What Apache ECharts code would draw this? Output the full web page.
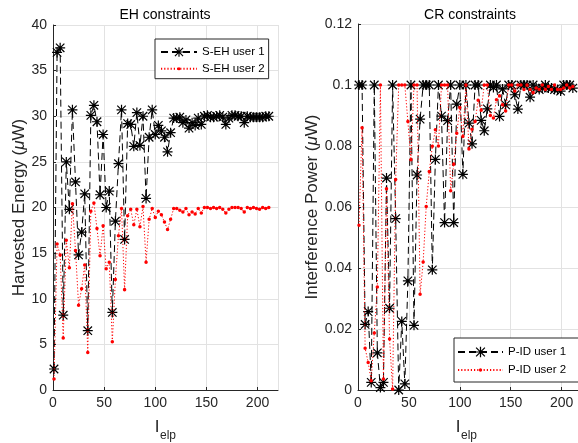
<!DOCTYPE html>
<html><head><meta charset="utf-8">
<script src="https://cdn.jsdelivr.net/npm/echarts@6/dist/echarts.min.js"></script>
<style>html,body{margin:0;padding:0;background:#fff}#c{width:578px;height:443px}</style>
</head><body><div id="c"></div>
<script>
// iteration index l_elp (x values shared by all series)
const iterations = [1,4,7,10,13,16,19,22,25,28,31,34,37,40,43,46,49,52,55,58,61,64,67,70,73,76,79,82,85,88,91,94,97,100,103,106,109,112,115,118,121,124,127,130,133,136,139,142,145,148,151,154,157,160,163,166,169,172,175,178,181,184,187,190,193,196,199,202,205,208,211];

// EH constraints: harvested energy (uW)
const sehUser1 = [2.3,37.0,37.5,8.2,25.0,19.8,30.7,22.8,14.8,17.3,21.5,6.5,30.1,31.2,29.4,21.4,28.0,20.0,21.8,8.5,18.5,24.8,30.7,16.5,29.2,29.1,26.7,30.4,26.8,30.0,21.0,27.7,30.7,28.0,29.0,28.4,27.7,26.1,28.2,29.8,29.8,29.9,29.3,29.6,28.7,29.3,29.0,29.8,29.1,30.0,30.1,29.9,29.9,30.0,30.1,29.9,29.1,29.8,30.1,30.1,30.0,30.0,29.3,30.0,29.9,29.9,29.9,29.9,29.9,30.0,30.0];
const sehUser2 = [1.2,16.0,14.8,5.7,16.4,13.4,20.4,15.3,9.3,11.1,13.7,4.1,19.6,20.5,17.7,14.7,18.0,13.3,14.0,5.3,12.1,16.9,19.9,11.0,19.1,19.8,18.1,19.8,17.9,20.1,14.0,18.7,19.9,18.9,19.6,19.2,18.4,17.6,18.7,19.9,19.9,19.7,19.5,19.9,19.2,19.5,19.3,19.9,19.4,20.0,20.0,19.9,20.0,19.9,20.0,19.8,19.4,19.8,20.0,20.0,20.0,19.9,19.5,20.0,19.9,20.0,19.9,19.8,20.0,19.9,20.0];

// CR constraints: interference power (uW)
const pidUser1 = [0.1,0.1,0.0215,0.0257,0.0025,0.1,0.0122,0.0008,0.0025,0.0695,0.0268,0.1,0.0562,0.0,0.0225,0.002,0.0358,0.1,0.0212,0.0705,0.0888,0.1,0.1,0.1,0.0394,0.0756,0.1,0.0898,0.0549,0.0883,0.1,0.0549,0.0937,0.1,0.0707,0.1,0.0875,0.0807,0.1,0.1,0.0884,0.085,0.0922,0.1,0.0992,0.1,0.0897,0.0987,0.0935,0.1,0.1,0.0968,0.0921,0.1,0.1,0.1,0.096,0.1,0.099,0.0985,0.099,0.1,0.099,0.099,0.0985,0.0985,0.098,0.1,0.1,0.1,0.099];
const pidUser2 = [0.054,0.086,0.0137,0.009,0.003,0.0187,0.0338,0.1,0.0036,0.066,0.0167,0.0003,0.069,0.1,0.1,0.1,0.088,0.0755,0.1,0.1,0.0314,0.042,0.0602,0.0716,0.0799,0.0853,0.08,0.1,0.1,0.1,0.0653,0.074,0.0842,0.0926,0.0831,0.1,0.079,0.0855,0.088,0.095,0.0917,0.1,0.1,0.09,0.0892,0.0952,0.0965,0.0935,0.0915,0.1,0.1,0.098,0.1,0.1,0.0985,0.1,0.0985,0.0975,0.099,0.0985,0.1,0.0985,0.0995,0.0985,0.1,0.0985,0.0985,0.099,0.1,0.099,0.0995];

const xTicks = [0, 50, 100, 150, 200];
const ehTicks = [0, 5, 10, 15, 20, 25, 30, 35, 40];
const crTicks = [0, 0.02, 0.04, 0.06, 0.08, 0.1, 0.12];

const FONT = '"Liberation Sans", Arial, Helvetica, sans-serif';
const AX = '#262626';
const GRID = '#e2e2e2';
// asterisk marker ('*') and small point marker ('.') drawn as symbols
const STAR = 'path://M0 8.8L20 8.8L20 11.2L0 11.2Z M8.8 0L11.2 0L11.2 20L8.8 20Z M2.4 0.7L19.3 17.6L17.6 19.3L0.7 2.4Z M17.6 0.7L19.3 2.4L2.4 19.3L0.7 17.6Z';
const DOT = 'path://M0 0L0.01 0L0.01 0.01Z M20 20L19.99 20L19.99 19.99Z M10 6.8A3.2 3.2 0 1 1 10 13.2A3.2 3.2 0 1 1 10 6.8Z';

const pairs = (ys) => iterations.map((x, i) => [x, ys[i]]);

function xAxisCfg(gi) {
  return {
    type: 'value', gridIndex: gi, min: xTicks[0], max: 220, interval: xTicks[1] - xTicks[0],
    axisLine: { show: true, onZero: false, lineStyle: { color: AX, width: 1 } },
    axisTick: { show: true, inside: true, length: 3, lineStyle: { color: AX } },
    axisLabel: { showMaxLabel: false, color: AX, fontSize: 14, fontFamily: FONT, margin: 6 },
    splitLine: { show: true, lineStyle: { color: GRID, width: 1 } }
  };
}
function yAxisCfg(gi, ticks, name, gap) {
  return {
    type: 'value', gridIndex: gi, min: ticks[0], max: ticks[ticks.length - 1], interval: ticks[1] - ticks[0],
    name: name, nameLocation: 'middle', nameGap: gap, nameRotate: 90,
    nameTextStyle: { color: AX, fontSize: 17, fontFamily: FONT,
      rich: { mu: { fontStyle: 'italic', fontSize: 17, color: AX, fontFamily: FONT } } },
    axisLine: { show: true, lineStyle: { color: AX, width: 1 } },
    axisTick: { show: true, inside: true, length: 3, lineStyle: { color: AX } },
    axisLabel: { color: AX, fontSize: 14, fontFamily: FONT, margin: 6 },
    splitLine: { show: true, lineStyle: { color: GRID, width: 1 } }
  };
}
function blackSeries(name, gi, ys) {
  return { type: 'line', name: name, xAxisIndex: gi, yAxisIndex: gi, data: pairs(ys),
    symbol: STAR, symbolSize: 10, showSymbol: true, z: 2,
    lineStyle: { color: '#000', width: 1, type: [7, 4] }, itemStyle: { color: '#000' } };
}
function redSeries(name, gi, ys) {
  return { type: 'line', name: name, xAxisIndex: gi, yAxisIndex: gi, data: pairs(ys),
    symbol: DOT, symbolSize: 11, showSymbol: true, z: 3,
    lineStyle: { color: '#ff0000', width: 1, type: [1.2, 2] }, itemStyle: { color: '#ff0000' } };
}
function legendCfg(names, left, top, pad, iw, ih, gap) {
  return { data: names, orient: 'vertical', left: left, top: top, padding: pad,
    itemWidth: iw, itemHeight: ih, itemGap: gap, borderColor: AX, borderWidth: 1,
    backgroundColor: '#fff', borderRadius: 0, selectedMode: false,
    textStyle: { fontSize: 11.5, color: '#000', fontFamily: FONT } };
}

const chart = echarts.init(document.getElementById('c'), null, { renderer: 'canvas' });
chart.setOption({
  animation: false,
  backgroundColor: '#fff',
  grid: [
    { left: 53, top: 25, width: 225, height: 365, outerBoundsMode: 'none', containLabel: false },
    { left: 358, top: 24, width: 224, height: 366, outerBoundsMode: 'none', containLabel: false }
  ],
  xAxis: [xAxisCfg(0), xAxisCfg(1)],
  yAxis: [
    yAxisCfg(0, ehTicks, 'Harvested Energy ({mu|\u03bc}W)', 25),
    yAxisCfg(1, crTicks, 'Interference Power ({mu|\u03bc}W)', 31)
  ],
  legend: [
    legendCfg(['S-EH user 1', 'S-EH user 2'], 155, 39, [7, 4, 4, 5], 36, 12, 4.7),
    legendCfg(['P-ID user 1', 'P-ID user 2'], 454, 338, [8, 14, 6, 3], 45, 13, 6)
  ],
  graphic: [
    { type: 'text', x: 165, y: 15, style: { text: 'EH constraints', font: '14px ' + FONT, fill: '#000', textAlign: 'center', textVerticalAlign: 'middle' } },
    { type: 'text', x: 470, y: 15, style: { text: 'CR constraints', font: '14px ' + FONT, fill: '#000', textAlign: 'center', textVerticalAlign: 'middle' } },
    { type: 'text', x: 157, y: 427, style: { text: 'I', font: '17px ' + FONT, fill: AX, textAlign: 'center', textVerticalAlign: 'middle' } },
    { type: 'text', x: 160, y: 436, style: { text: 'elp', font: '12px ' + FONT, fill: AX, textAlign: 'left', textVerticalAlign: 'middle' } },
    { type: 'text', x: 458, y: 427, style: { text: 'I', font: '17px ' + FONT, fill: AX, textAlign: 'center', textVerticalAlign: 'middle' } },
    { type: 'text', x: 461, y: 436, style: { text: 'elp', font: '12px ' + FONT, fill: AX, textAlign: 'left', textVerticalAlign: 'middle' } }
  ],
  series: [
    blackSeries('S-EH user 1', 0, sehUser1),
    redSeries('S-EH user 2', 0, sehUser2),
    blackSeries('P-ID user 1', 1, pidUser1),
    redSeries('P-ID user 2', 1, pidUser2)
  ]
});
</script>
</body></html>
